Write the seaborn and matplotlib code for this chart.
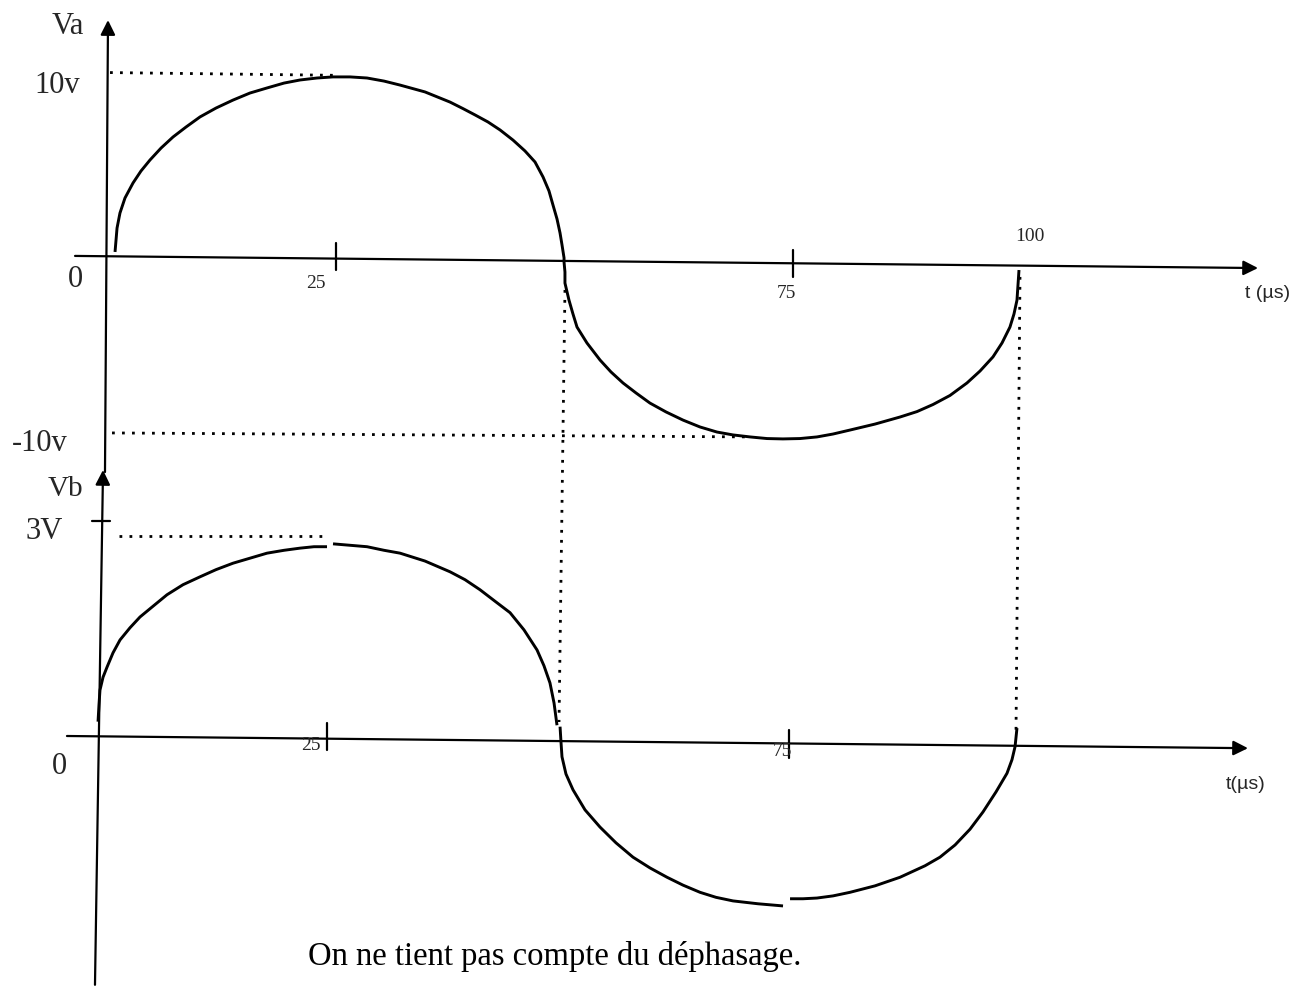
import numpy as np
import pandas as pd
import matplotlib
matplotlib.use("Agg")
import matplotlib.pyplot as plt
import seaborn as sns

# ---------------- data ----------------
# Va (top): one continuous curve, t in microseconds, V in volts
va_t = [0.77, 0.88, 0.99, 1.31, 1.86, 2.74, 3.61, 4.60, 5.81, 7.12, 8.54, 10.08,
        11.83, 13.69, 15.55, 17.42, 19.28, 21.03, 22.89, 24.64, 26.51, 28.37,
        30.23, 31.98, 34.72, 37.46, 38.88, 40.20, 41.62, 42.94, 44.36, 45.67,
        46.77, 47.65, 48.30, 48.74, 49.18, 49.51, 49.73, 49.95,
        49.95, 50.05, 50.05, 50.49, 50.93, 51.37, 52.46, 53.89, 55.09, 56.41,
        57.83, 59.36, 61.12, 62.98, 64.84, 66.70, 68.46, 70.32, 72.18, 73.93,
        75.79, 77.66, 79.41, 81.27, 84.01, 86.75, 88.61, 90.36, 92.22, 94.08,
        95.51, 96.93, 97.92, 98.79, 99.23, 99.56, 99.67, 99.78]
va_v = [0.39, 1.05, 1.71, 2.54, 3.37, 4.20, 4.86, 5.47, 6.13, 6.74, 7.29, 7.85,
        8.34, 8.78, 9.17, 9.45, 9.72, 9.89, 10.00, 10.06, 10.06, 10.00,
        9.83, 9.61, 9.23, 8.67, 8.31, 7.96, 7.57, 7.13, 6.57, 5.97,
        5.36, 4.53, 3.76, 2.98, 2.21, 1.44, 0.77, 0.06,
        -0.17, -0.72, -1.33, -2.27, -3.04, -3.76, -4.64, -5.58, -6.24, -6.85,
        -7.40, -7.96, -8.45, -8.90, -9.28, -9.56, -9.72, -9.83, -9.92, -9.94,
        -9.92, -9.83, -9.67, -9.45, -9.12, -8.73, -8.43, -8.04, -7.54, -6.85,
        -6.19, -5.41, -4.64, -3.76, -3.04, -2.27, -1.44, -0.61]

# Vb (bottom): drawn in four separate pieces
vb_seg1_t = [0.22, 0.32, 0.43, 0.76, 1.19, 1.84, 2.60, 3.68, 4.76, 6.17, 7.68,
             9.41, 11.25, 12.98, 14.82, 16.66, 18.50, 20.34, 22.07, 23.58, 24.99]
vb_seg1_v = [0.20, 0.43, 0.64, 0.82, 0.96, 1.16, 1.34, 1.51, 1.66, 1.81, 1.97,
             2.11, 2.22, 2.32, 2.41, 2.48, 2.55, 2.59, 2.62, 2.64, 2.64]
vb_seg2_t = [25.64, 27.48, 29.32, 31.16, 32.89, 35.59, 38.30, 39.92, 41.54,
             43.16, 44.79, 46.30, 47.71, 48.46, 49.11, 49.55, 49.87]
vb_seg2_v = [2.68, 2.66, 2.64, 2.59, 2.55, 2.44, 2.29, 2.18, 2.04,
             1.88, 1.72, 1.48, 1.20, 0.98, 0.74, 0.46, 0.15]
vb_seg3_t = [50.20, 50.30, 50.41, 50.84, 51.60, 52.90, 54.52, 56.25, 58.09,
             59.93, 61.77, 63.50, 65.34, 67.07, 68.91, 71.62, 74.32]
vb_seg3_v = [0.13, -0.08, -0.29, -0.53, -0.75, -1.03, -1.27, -1.49, -1.69,
             -1.84, -1.97, -2.08, -2.18, -2.25, -2.30, -2.34, -2.37]
vb_seg4_t = [75.08, 76.48, 77.99, 79.73, 81.57, 84.27, 86.98, 89.68, 91.30,
             92.93, 94.55, 95.95, 97.36, 98.55, 99.09, 99.42, 99.63]
vb_seg4_v = [-2.27, -2.27, -2.26, -2.23, -2.18, -2.09, -1.97, -1.81, -1.69,
             -1.52, -1.30, -1.06, -0.78, -0.52, -0.33, -0.15, 0.11]

x_ticks = [25, 75]
va_label_top = "10v"
va_label_bottom = "-10v"
vb_label = "3V"
caption = "On ne tient pas compte du déphasage."

# ---------------- figure / styling ----------------
sns.set_style("white")
plt.rcParams["font.family"] = ["Liberation Serif", "DejaVu Serif"]

W, H = 1307, 988
fig = plt.figure(figsize=(W / 100, H / 100), dpi=100)
fig.patch.set_facecolor("white")

# scale of the top plot (pixels per unit) and origin
TX0, TSX, TY0, TSY = 108.0, 9.13, 259.0, 18.1
# scale of the bottom plot
BX0, BSX, BY0, BSY = 96.0, 9.244, 736.0, 71.7

ax_top = fig.add_axes([0, 0, 1, 1])
ax_bot = fig.add_axes([0, 0, 1, 1])
ax_bot.patch.set_alpha(0)

LW_CURVE = 2.1
LW_AXIS = 1.6
DOT = dict(color="black", lw=2.0, linestyle=(0, (1, 2.6)), dash_capstyle="butt")

# ---------------- curves ----------------
df_va = pd.DataFrame({"t": va_t, "v": va_v})
sns.lineplot(data=df_va, x="t", y="v", ax=ax_top, color="black", lw=LW_CURVE,
             sort=False, estimator=None, legend=False,
             solid_joinstyle="round", solid_capstyle="butt")

for seg_t, seg_v in [(vb_seg1_t, vb_seg1_v), (vb_seg2_t, vb_seg2_v),
                     (vb_seg3_t, vb_seg3_v), (vb_seg4_t, vb_seg4_v)]:
    df = pd.DataFrame({"t": seg_t, "v": seg_v})
    sns.lineplot(data=df, x="t", y="v", ax=ax_bot, color="black", lw=LW_CURVE,
                 sort=False, estimator=None, legend=False,
                 solid_joinstyle="round", solid_capstyle="butt")

for ax in (ax_top, ax_bot):
    ax.set_xlabel("")
    ax.set_ylabel("")
    ax.axis("off")

ax_top.set_xlim(-TX0 / TSX, (W - TX0) / TSX)
ax_top.set_ylim((TY0 - H) / TSY, TY0 / TSY)
ax_bot.set_xlim(-BX0 / BSX, (W - BX0) / BSX)
ax_bot.set_ylim((BY0 - H) / BSY, BY0 / BSY)

# ---------------- hand-drawn style axes ----------------
arrow = dict(arrowstyle="-|>", color="black", lw=LW_AXIS, mutation_scale=22,
             shrinkA=0, shrinkB=0)
# top axes
ax_top.annotate("", xy=(125.96, -0.50), xytext=(-3.61, 0.17), arrowprops=arrow)
ax_top.annotate("", xy=(0.0, 13.20), xytext=(-0.33, -11.77), arrowprops=arrow)
# bottom axes
ax_bot.annotate("", xy=(124.62, -0.17), xytext=(-3.14, 0.0), arrowprops=arrow)
ax_bot.annotate("", xy=(0.76, 3.71), xytext=(-0.11, -3.47), arrowprops=arrow)

# ticks
ax_top.plot([x_ticks[0]] * 2, [0.88, -0.61], color="black", lw=LW_AXIS)
ax_top.plot([x_ticks[1]] * 2, [0.50, -1.00], color="black", lw=LW_AXIS)
ax_bot.plot([x_ticks[0]] * 2, [0.18, -0.20], color="black", lw=LW_AXIS)
ax_bot.plot([x_ticks[1]] * 2, [0.08, -0.31], color="black", lw=LW_AXIS)
ax_bot.plot([-0.43, 1.51], [3.0, 3.0], color="black", lw=LW_AXIS)

# dotted guides
ax_top.plot([0.22, 24.64], [10.30, 10.15], **DOT)
ax_top.plot([0.44, 70.3], [-9.61, -9.83], **DOT)
ax_top.plot([50.05, 49.4], [-1.71, -25.58], **DOT)
ax_top.plot([99.89, 99.45], [-0.99, -26.3], **DOT)
ax_bot.plot([2.49, 24.77], [2.79, 2.79], **DOT)

# ---------------- texts ----------------
serif = ["Liberation Serif", "DejaVu Serif"]
sans = ["Liberation Sans", "DejaVu Sans"]
ax_top.text(-4.38, 12.87, "Va", ha="center", va="center", fontsize=22, family=serif)
ax_top.text(-5.59, 9.61, va_label_top, ha="center", va="center", fontsize=22, family=serif)
ax_top.text(-3.61, -1.16, "0", ha="center", va="center", fontsize=22, family=serif)
ax_top.text(-7.45, -10.17, va_label_bottom, ha="center", va="center", fontsize=22, family=serif)
ax_top.text(22.78, -1.33, str(x_ticks[0]), ha="center", va="center", fontsize=14, family=serif)
ax_top.text(74.26, -1.88, str(x_ticks[1]), ha="center", va="center", fontsize=14, family=serif)
ax_top.text(100.99, 1.27, "100", ha="center", va="center", fontsize=14, family=serif)
ax_top.text(127.05, -1.88, "t (µs)", ha="center", va="center", fontsize=14, family=sans)

ax_bot.text(-3.35, 3.44, "Vb", ha="center", va="center", fontsize=21, family=serif)
ax_bot.text(-5.63, 2.85, vb_label, ha="center", va="center", fontsize=22, family=serif)
ax_bot.text(-4.00, -0.43, "0", ha="center", va="center", fontsize=22, family=serif)
ax_bot.text(23.26, -0.13, str(x_ticks[0]), ha="center", va="center", fontsize=14, family=serif)
ax_bot.text(74.21, -0.22, str(x_ticks[1]), ha="center", va="center", fontsize=14, family=serif)
ax_bot.text(124.4, -0.67, "t(µs)", ha="center", va="center", fontsize=14, family=sans)
ax_bot.text(49.6, -3.08, caption, ha="center", va="center", fontsize=23.5,
            family=serif, color="black")

fig.savefig("out.png", dpi=100, facecolor="white")
